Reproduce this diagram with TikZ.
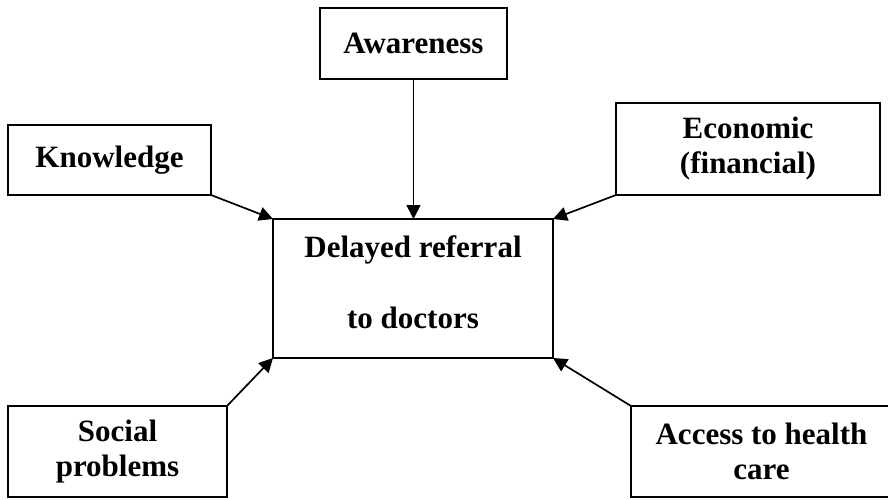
\documentclass[tikz,border=0pt]{standalone}
\usepackage{fontspec}
\setmainfont{Liberation Serif}
\usepackage{tikz}
\usetikzlibrary{arrows.meta}

\begin{document}
\begin{tikzpicture}[
      font=\fontsize{31}{35}\selectfont\bfseries,
      box/.style={draw, line width=1.6pt, align=center, inner sep=0pt,
                  outer sep=0pt},
      cause/.style={box, minimum width=#1},
      link/.style={->, line width=1.7pt},
      >={Triangle[length=14pt,width=14pt]}]

    \useasboundingbox (0pt,0pt) rectangle (888pt,-500pt);
    \clip (0pt,0pt) rectangle (888pt,-500pt);

    \node[box, minimum width=280pt, minimum height=139pt] (delay) at (413pt,-288.5pt)
      {Delayed referral\\[36pt]to doctors\\[-23pt]\mbox{}};

    \node[cause=187pt, minimum height=71pt] (aware) at (413.5pt,-43.5pt) {Awareness};
    \node[cause=203pt, minimum height=70pt] (know) at (109.5pt,-160pt) {Knowledge};
    \node[cause=264pt, minimum height=92pt] (econ) at (748pt,-149pt)
      {Economic\\(financial)};
    \node[cause=219pt, minimum height=91pt] (social) at (117.5pt,-451.5pt)
      {Social\\problems};
    \node[cause=261pt, minimum height=91pt] (access) at (761.5pt,-451.5pt)
      {Access to health\\care};

    \draw[link] (aware.south) -- (aware.south |- delay.north);
    \draw[link] (know.south east) -- (delay.north west);
    \draw[link] (econ.south west) -- (delay.north east);
    \draw[link] (social.north east) -- (delay.south west);
    \draw[link] (access.north west) -- (delay.south east);
  \end{tikzpicture}
\end{document}
